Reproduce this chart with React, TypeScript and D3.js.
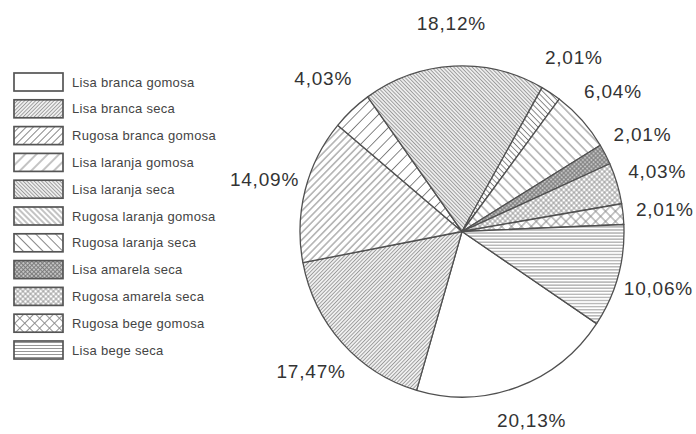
import React from "react";
import * as d3 from "d3";

const categories = [
  "Lisa branca gomosa",
  "Lisa branca seca",
  "Rugosa branca gomosa",
  "Lisa laranja gomosa",
  "Lisa laranja seca",
  "Rugosa laranja gomosa",
  "Rugosa laranja seca",
  "Lisa amarela seca",
  "Rugosa amarela seca",
  "Rugosa bege gomosa",
  "Lisa bege seca",
];
const values = [20.13, 17.47, 14.09, 4.03, 18.12, 2.01, 6.04, 2.01, 4.03, 2.01, 10.06];

// pattern styles, one per category
type Pat = { kind: string; size: number; rot: number; stroke: string; sw: number; bg: string };
const patterns: Pat[] = [
  { kind: "none", size: 4, rot: 0, stroke: "#fff", sw: 0, bg: "#ffffff" },
  { kind: "line", size: 2.6, rot: 45, stroke: "#9a9a9a", sw: 0.9, bg: "#efefef" },
  { kind: "line", size: 5, rot: 45, stroke: "#7a7a7a", sw: 0.9, bg: "#ffffff" },
  { kind: "line", size: 8, rot: 45, stroke: "#7a7a7a", sw: 0.9, bg: "#ffffff" },
  { kind: "line", size: 2.6, rot: -45, stroke: "#9a9a9a", sw: 0.9, bg: "#ececec" },
  { kind: "line", size: 4, rot: -45, stroke: "#7a7a7a", sw: 0.9, bg: "#ffffff" },
  { kind: "line", size: 7, rot: -45, stroke: "#7a7a7a", sw: 0.9, bg: "#ffffff" },
  { kind: "cross", size: 3, rot: 45, stroke: "#777", sw: 0.9, bg: "#c4c4c4" },
  { kind: "cross", size: 3.6, rot: 45, stroke: "#888", sw: 0.8, bg: "#ffffff" },
  { kind: "cross", size: 7, rot: 45, stroke: "#888", sw: 0.9, bg: "#ffffff" },
  { kind: "line", size: 3, rot: 90, stroke: "#8a8a8a", sw: 0.9, bg: "#ffffff" },
];

const START = (123.8 * Math.PI) / 180;
const CX = 462;
const CY = 231.5;
const R = 162;
const SY = 1.022;
const LABEL_R = 204;
const LABEL_MAX_Y = 420;

const fmt = (v: number) => d3.format(".2f")(v).replace(".", ",") + "%";

export default function App() {
  const pie = d3
    .pie<number>()
    .sort(null)
    .value((d) => d)
    .startAngle(START)
    .endAngle(START + 2 * Math.PI);
  const arcs = pie(values);
  const arc = d3.arc<d3.PieArcDatum<number>>().innerRadius(0).outerRadius(R);

  const legendY = d3.scaleLinear().domain([0, categories.length - 1]).range([82, 82 + 10 * 26.8]);

  return (
    <svg
      width={696}
      height={434}
      style={{ position: "absolute", left: 0, top: 0, background: "#fff" }}
      fontFamily="'Liberation Sans', Arial, sans-serif"
    >
      <defs>
        {patterns.map((p, i) => (
          <pattern
            key={i}
            id={`pat${i}`}
            patternUnits="userSpaceOnUse"
            width={p.size}
            height={p.size}
            patternTransform={`rotate(${p.rot})`}
          >
            <rect width={p.size} height={p.size} fill={p.bg} />
            {p.kind === "line" && (
              <line x1={p.size / 2} y1={0} x2={p.size / 2} y2={p.size} stroke={p.stroke} strokeWidth={p.sw} />
            )}
            {p.kind === "cross" && (
              <g stroke={p.stroke} strokeWidth={p.sw}>
                <line x1={p.size / 2} y1={0} x2={p.size / 2} y2={p.size} />
                <line x1={0} y1={p.size / 2} x2={p.size} y2={p.size / 2} />
              </g>
            )}
          </pattern>
        ))}
      </defs>

      {/* legend */}
      <g>
        {categories.map((c, i) => (
          <g key={c} transform={`translate(0,${legendY(i)})`}>
            <rect x={14} y={-9} width={49} height={18} fill={`url(#pat${i})`} stroke="#555" strokeWidth={1.7} />
            <text x={72} y={0} dy="0.35em" fontSize={13} letterSpacing={0.3} fill="#444">
              {c}
            </text>
          </g>
        ))}
      </g>

      {/* pie */}
      <g transform={`translate(${CX},${CY}) scale(1,${SY})`}>
        {arcs.map((a, i) => (
          <path key={i} d={arc(a) || ""} fill={`url(#pat${i})`} stroke="#505050" strokeWidth={1.3} strokeLinejoin="round" />
        ))}
      </g>

      {/* labels */}
      <g fontSize={19} letterSpacing={0.8} fill="#333">
        {arcs.map((a, i) => {
          const m = (a.startAngle + a.endAngle) / 2;
          const x = CX + LABEL_R * Math.sin(m);
          const y = Math.min(LABEL_MAX_Y, CY - LABEL_R * SY * Math.cos(m));
          return (
            <text key={i} x={x} y={y} dy="0.35em" textAnchor="middle">
              {fmt(a.data)}
            </text>
          );
        })}
      </g>
    </svg>
  );
}
